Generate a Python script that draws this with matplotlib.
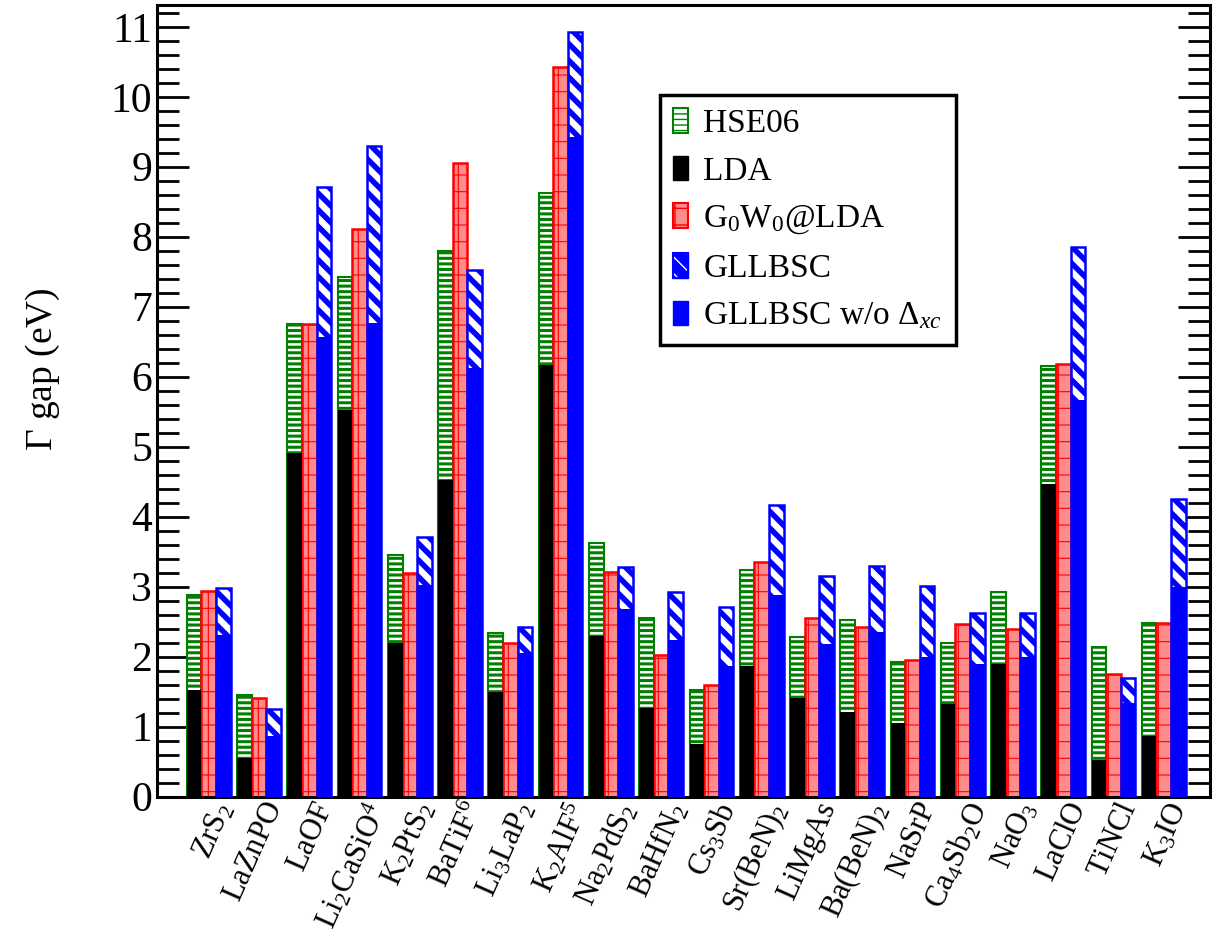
import numpy as np
import matplotlib
matplotlib.use("Agg")
import matplotlib.pyplot as plt
import matplotlib.transforms as mtrans
from matplotlib.patches import Patch
from matplotlib.legend_handler import HandlerTuple
from matplotlib.ticker import MultipleLocator

plt.rcParams['font.family'] = ['Liberation Serif', 'DejaVu Serif']
plt.rcParams['mathtext.fontset'] = 'custom'
plt.rcParams['mathtext.rm'] = 'Liberation Serif'
plt.rcParams['mathtext.it'] = 'Liberation Serif:italic'

# materials on the x axis
materials = [r'$\mathrm{ZrS_2}$', r'$\mathrm{LaZnPO}$', r'$\mathrm{LaOF}$',
             r'$\mathrm{Li_2CaSiO^4}$', r'$\mathrm{K_2PtS_2}$', r'$\mathrm{BaTiF^6}$',
             r'$\mathrm{Li_3LaP_2}$', r'$\mathrm{K_2AlF^5}$', r'$\mathrm{Na_2PdS_2}$',
             r'$\mathrm{BaHfN_2}$', r'$\mathrm{Cs_3Sb}$', r'$\mathrm{Sr(BeN)_2}$',
             r'$\mathrm{LiMgAs}$', r'$\mathrm{Ba(BeN)_2}$', r'$\mathrm{NaSrP}$',
             r'$\mathrm{Ca_4Sb_2O}$', r'$\mathrm{NaO_3}$', r'$\mathrm{LaClO}$',
             r'$\mathrm{TiNCl}$', r'$\mathrm{K_3IO}$']

# Gamma-point gaps (eV)
hse06 = [2.88, 1.45, 6.75, 7.43, 3.45, 7.80, 2.34, 8.62, 3.62, 2.56,
         1.52, 3.24, 2.28, 2.52, 1.93, 2.19, 2.93, 6.15, 2.14, 2.48]
lda = [1.52, 0.56, 4.91, 5.52, 2.20, 4.52, 1.49, 6.17, 2.30, 1.27,
       0.75, 1.87, 1.41, 1.21, 1.05, 1.32, 1.90, 4.47, 0.52, 0.87]
g0w0 = [2.94, 1.41, 6.75, 8.11, 3.20, 9.06, 2.20, 10.43, 3.21, 2.02,
        1.60, 3.35, 2.55, 2.42, 1.96, 2.47, 2.39, 6.18, 1.76, 2.48]
gllbsc = [2.98, 1.25, 8.71, 9.30, 3.71, 7.52, 2.42, 10.93, 3.28, 2.92,
          2.71, 4.17, 3.15, 3.30, 3.01, 2.63, 2.63, 7.85, 1.70, 4.25]
gllbsc_noxc = [2.31, 0.87, 6.57, 6.77, 3.02, 6.12, 2.05, 9.43, 2.68, 2.24,
               1.87, 2.88, 2.18, 2.35, 2.00, 1.90, 2.00, 5.67, 1.34, 3.00]

x = np.arange(len(materials))
w = 0.29
red_face = '#ff8c8c'

fig = plt.figure(figsize=(12.19, 9.36), dpi=100)
ax = fig.add_axes([0.1288, 0.1488, 0.8638, 0.8458])

# HSE06 (striped green) with LDA (black) on top of it
with plt.rc_context({'hatch.linewidth': 2.2}):
    ax.bar(x - w, hse06, w, facecolor='white', edgecolor='green', hatch='---', lw=1.5, zorder=2)
ax.bar(x - w, lda, w, color='black', lw=0, zorder=3)

# G0W0@LDA
with plt.rc_context({'hatch.linewidth': 0.8}):
    ax.bar(x, g0w0, w, facecolor=red_face, edgecolor='red', hatch='+', lw=1.8, zorder=2)

# GLLBSC: blue with white diagonal stripes, solid part is the value without Delta_xc
ax.bar(x + w, gllbsc, w, facecolor='blue', edgecolor='blue', lw=0, zorder=2)
with plt.rc_context({'hatch.linewidth': 4.5}):
    ax.bar(x + w, gllbsc, w, facecolor='none', edgecolor='white', hatch='\\\\', lw=0, zorder=2.5)
ax.bar(x + w, gllbsc, w, facecolor='none', edgecolor='blue', lw=1.8, zorder=2.6)
ax.bar(x + w, gllbsc_noxc, w, color='blue', lw=0, zorder=3)

ax.set_xlim(-1.03, 19.92)
ax.set_ylim(0, 11.31)
ax.yaxis.set_major_locator(MultipleLocator(1))
ax.yaxis.set_minor_locator(MultipleLocator(0.2))
ax.tick_params(axis='y', which='both', direction='in', left=True, right=True,
               width=2, labelsize=30)
ax.tick_params(axis='y', which='major', length=23)
ax.tick_params(axis='y', which='minor', length=16)
ax.set_xticks(x)
ax.set_xticklabels(materials, rotation=66, ha='right', va='top',
                   rotation_mode='anchor', fontsize=22)
ax.tick_params(axis='x', length=0, pad=1)
offset = mtrans.ScaledTranslation(0.03, 0, fig.dpi_scale_trans)
for lab in ax.get_xticklabels():
    lab.set_transform(lab.get_transform() + offset)

for s in ax.spines.values():
    s.set_linewidth(2.2)

ax.set_ylabel(r'$\Gamma$ gap (eV)', fontsize=27)
ax.yaxis.set_label_coords(-0.09, 0.54)

h_gll = (Patch(facecolor='blue', edgecolor='blue'),
         Patch(facecolor='none', edgecolor='white', hatch='\\\\', lw=0),
         Patch(facecolor='none', edgecolor='blue', lw=1.5))
handles = [
    Patch(facecolor='white', edgecolor='green', hatch='---', lw=1.5),
    Patch(facecolor='black', edgecolor='black'),
    Patch(facecolor=red_face, edgecolor='red', hatch='+', lw=1.5),
    h_gll,
    Patch(facecolor='blue', edgecolor='blue'),
]
labels = ['HSE06', 'LDA', r'G$_0$W$_0$@LDA', 'GLLBSC', r'GLLBSC w/o $\Delta_{xc}$']
leg = ax.legend(handles, labels, loc='upper left', bbox_to_anchor=(0.4777, 0.8863),
                handler_map={tuple: HandlerTuple(ndivide=1)},
                fontsize=24, frameon=True, fancybox=False, framealpha=1,
                edgecolor='black', handlelength=0.45, handleheight=0.75,
                handletextpad=0.45, labelspacing=0.5, borderpad=0.4,
                borderaxespad=0)
leg.get_frame().set_linewidth(2.5)

fig.savefig('out.png', dpi=100)
